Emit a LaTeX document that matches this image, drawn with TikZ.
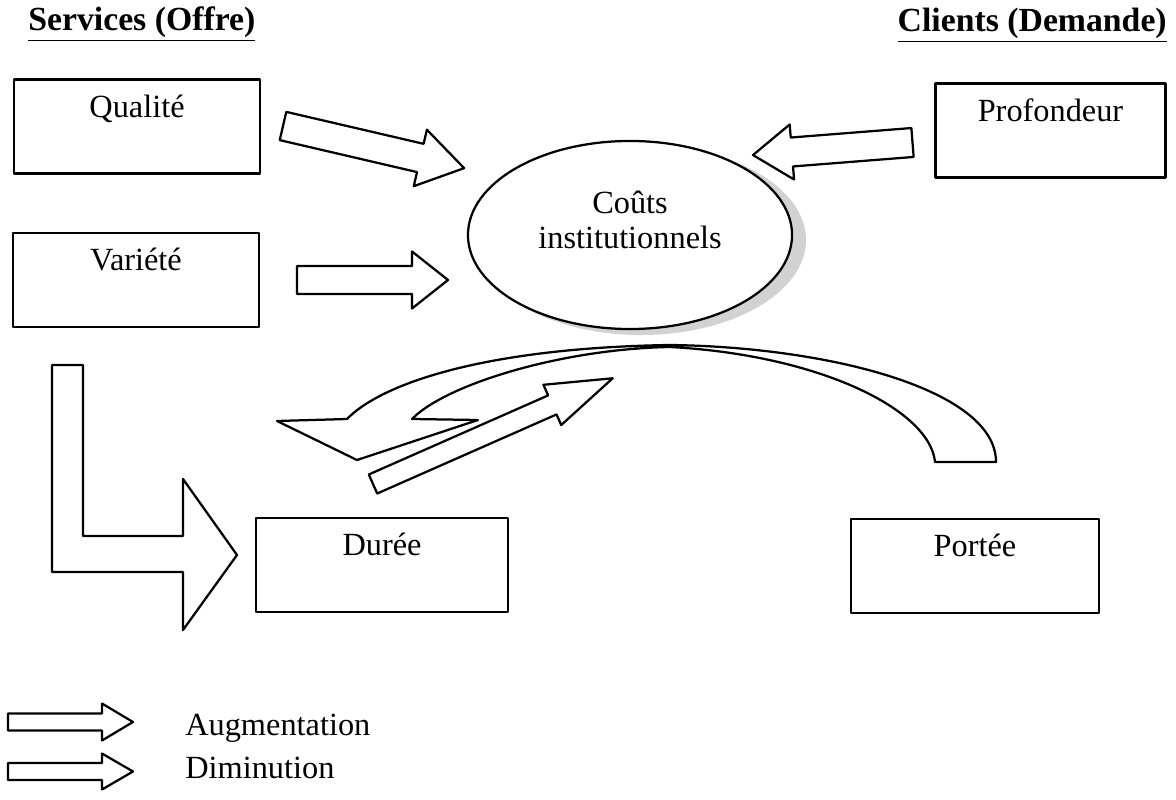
\documentclass[tikz,border=0pt]{standalone}
\usepackage{fontspec}
\setmainfont{Liberation Serif}
\usetikzlibrary{shapes.geometric,positioning}

\tikzset{
  trait/.style={line width=1.6pt, line join=round},
  boite/.style={trait, draw, minimum width=6.15cm, minimum height=2.35cm},
  texte/.style={font=\fontsize{23}{25}\selectfont, inner sep=0pt},
  titre/.style={font=\fontsize{24}{28}\selectfont\bfseries, inner sep=0pt},
  pics/fleche/.style args={#1/#2/#3/#4}{code={
    \draw[trait, fill=white] (0,-#2) -- ({#1-#4},-#2) -- ({#1-#4},-#3) -- (#1,0)
      -- ({#1-#4},#3) -- ({#1-#4},#2) -- (0,#2) -- cycle;
  }},
}

\begin{document}
\begin{tikzpicture}[x=0.025cm, y=-0.025cm]
\useasboundingbox (0,0) rectangle (1176,800);

% titres
\node[titre, anchor=base west] (offre) at (28,31) {\underline{Services (Offre)}};
\node[titre, anchor=base east] (demande) at (1167,32) {\underline{Clients (Demande)}};

% boites
\node[boite] (qualite) at (137,126.5) {};
\node[boite] (variete) at (136,280) {};
\node[boite, minimum width=5.75cm] (profondeur) at (1050.5,130.5) {};
\node[boite, minimum width=6.3cm] (duree) at (382,565) {};
\node[boite, minimum width=6.2cm] (portee) at (975,566) {};

\node[texte, anchor=base] (qualite-t) at ([yshift=-0.97cm]qualite.north) {Qualité};
\node[texte, anchor=base] (variete-t) at ([yshift=-0.97cm]variete.north) {Variété};
\node[texte, anchor=base] (profondeur-t) at ([yshift=-0.97cm]profondeur.north) {Profondeur};
\node[texte, anchor=base] (duree-t) at ([yshift=-0.97cm]duree.north) {Durée};
\node[texte, anchor=base] (portee-t) at ([yshift=-0.97cm]portee.north) {Portée};

% ellipse
\node[ellipse, fill=gray!35, minimum width=8.25cm, minimum height=4.75cm] (ombre) at (641,240) {};
\node[ellipse, trait, draw, fill=white, minimum width=8.1cm, minimum height=4.7cm] (couts) at (630,235) {};
\node[texte, align=center] (couts-t) at (630,220) {Coûts\\institutionnels};

% fleches droites
\pic[rotate=-13.1] at (283,126) {fleche={186/14.5/29/45}};
\pic at (297,280) {fleche={151/14/28.5/36}};
\pic[rotate=184.5] at (912.5,142.5) {fleche={160/14.5/27.6/39}};

% fleche courbe
\draw[trait, fill=white] (277,421) -- (347,419)
  .. controls (380,385) and (480,348) .. (670,345)
  .. controls (830,347) and (996,390) .. (996,462)
  -- (935,462)
  .. controls (930,410) and (820,355) .. (670,347)
  .. controls (560,349) and (445,385) .. (412,419)
  -- (478,420) -- (357,460) -- cycle;
\pic[rotate=23.8] at (373,484) {fleche={262/10.4/22/66}};

% fleche en L
\draw[trait, fill=white] (52,365) -- (83,365) -- (83,536) -- (183,536) -- (183,479)
  -- (237,555) -- (183,630) -- (183,572) -- (52,572) -- cycle;

% legende
\pic at (8,722) {fleche={125/8.5/18.5/31}};
\pic at (8,771.5) {fleche={125/8.5/18/31}};
\node[texte, anchor=base west] (augm) at (185,735) {Augmentation};
\node[texte, anchor=base west] (dimi) at (185,778) {Diminution};
\end{tikzpicture}
\end{document}
